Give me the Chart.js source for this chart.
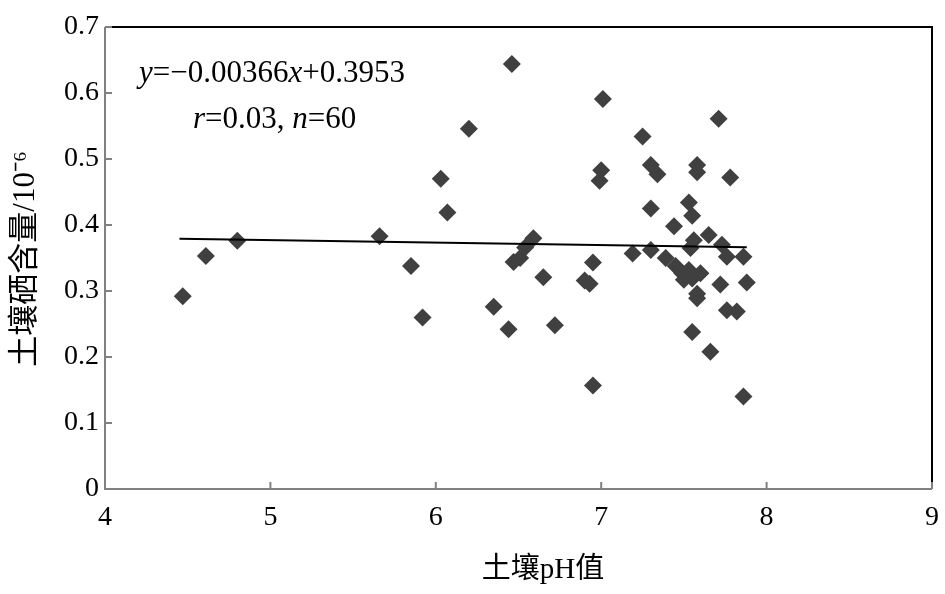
<!DOCTYPE html>
<html lang="zh">
<head>
    <meta charset="UTF-8">
    <title>土壤pH值与土壤硒含量</title>
    <style>
        body {
            margin: 0;
            background: white;
        }
        #wrap {
            width: 945px;
            height: 594px;
        }
    </style>
    <script src="https://cdn.jsdelivr.net/npm/chart.js"></script>
</head>
<body>

    <div id="wrap">
        <canvas id="seChart" width="945" height="594"></canvas>
    </div>

    <script>
        // soil pH (x) and soil Se content (y)
        const phValues = [4.47, 4.61, 4.80, 5.66, 5.85, 5.92, 6.03, 6.07, 6.20, 6.35,
            6.44, 6.46, 6.47, 6.51, 6.54, 6.59, 6.65, 6.72, 6.90, 6.93,
            6.95, 6.95, 6.99, 7.00, 7.01, 7.19, 7.25, 7.30, 7.34, 7.30,
            7.30, 7.39, 7.44, 7.45, 7.49, 7.50, 7.53, 7.55, 7.54, 7.53,
            7.55, 7.56, 7.58, 7.58, 7.58, 7.58, 7.60, 7.55, 7.65, 7.66,
            7.71, 7.72, 7.73, 7.76, 7.76, 7.78, 7.82, 7.86, 7.86, 7.88];
        const seValues = [0.292, 0.353, 0.376, 0.383, 0.338, 0.260, 0.470, 0.419, 0.546, 0.276,
            0.242, 0.644, 0.344, 0.350, 0.366, 0.380, 0.321, 0.248, 0.316, 0.311,
            0.343, 0.157, 0.467, 0.483, 0.591, 0.357, 0.534, 0.491, 0.477, 0.425,
            0.362, 0.350, 0.398, 0.338, 0.327, 0.317, 0.434, 0.414, 0.365, 0.332,
            0.319, 0.377, 0.491, 0.480, 0.296, 0.289, 0.327, 0.238, 0.385, 0.208,
            0.561, 0.310, 0.370, 0.352, 0.271, 0.472, 0.269, 0.140, 0.352, 0.313];

        // fitted line y = slope*x + intercept, drawn over the pH range of the samples
        const slope = -0.00366;
        const intercept = 0.3953;
        const fitRange = [4.45, 7.88];

        const xTicks = [4, 5, 6, 7, 8, 9];
        const yTicks = [0, 0.1, 0.2, 0.3, 0.4, 0.5, 0.6, 0.7];

        const xTitle = '土壤pH值';
        const yTitle = '土壤硒含量/10⁻⁶';
        const eqLines = [
            [['y', true], ['=−0.00366', false], ['x', true], ['+0.3953', false]],
            [['r', true], ['=0.03, ', false], ['n', true], ['=60', false]]
        ];

        const serif = '"Liberation Serif", "Times New Roman", "Noto Sans CJK SC", serif';

        const points = phValues.map((x, i) => ({x: x, y: seValues[i]}));
        const fitLine = fitRange.map(x => ({x: x, y: slope * x + intercept}));

        // frame, inward ticks, axis titles and the equation text
        const framePlugin = {
            id: 'frame',
            afterDraw(chart) {
                const ctx = chart.ctx;
                const a = chart.chartArea;
                const xs = chart.scales.x, ys = chart.scales.y;
                ctx.save();
                ctx.lineWidth = 2;

                ctx.strokeStyle = '#000';
                ctx.beginPath();
                ctx.moveTo(a.left, a.top);
                ctx.lineTo(a.right, a.top);
                ctx.lineTo(a.right, a.bottom);
                ctx.stroke();

                ctx.strokeStyle = '#808080';
                ctx.beginPath();
                ctx.moveTo(a.left, a.top);
                ctx.lineTo(a.left, a.bottom);
                ctx.lineTo(a.right, a.bottom);
                xTicks.forEach(v => {
                    const px = xs.getPixelForValue(v);
                    ctx.moveTo(px, a.bottom);
                    ctx.lineTo(px, a.bottom - 7);
                });
                yTicks.forEach(v => {
                    const py = ys.getPixelForValue(v);
                    ctx.moveTo(a.left, py);
                    ctx.lineTo(a.left + 7, py);
                });
                ctx.stroke();

                ctx.fillStyle = '#000';
                ctx.textBaseline = 'middle';
                ctx.textAlign = 'center';
                ctx.font = '29px ' + serif;
                ctx.fillText(xTitle, 543, 570);

                ctx.save();
                ctx.translate(26, 259);
                ctx.rotate(-Math.PI / 2);
                ctx.font = '31px ' + serif;
                ctx.fillText(yTitle, 0, 0);
                ctx.restore();

                ctx.textAlign = 'left';
                ctx.textBaseline = 'alphabetic';
                const starts = [[139, 82], [193, 128]];
                eqLines.forEach((line, i) => {
                    let x = starts[i][0];
                    line.forEach(([txt, ital]) => {
                        ctx.font = (ital ? 'italic ' : '') + '31px ' + serif;
                        ctx.fillText(txt, x, starts[i][1]);
                        x += ctx.measureText(txt).width;
                    });
                });
                ctx.restore();
            }
        };

        const ctx = document.getElementById('seChart').getContext('2d');
        new Chart(ctx, {
            type: 'scatter',
            data: {
                datasets: [{
                    type: 'line',
                    data: fitLine,
                    borderColor: '#000',
                    borderWidth: 2,
                    pointRadius: 0,
                    fill: false
                }, {
                    data: points,
                    pointStyle: 'rectRot',
                    pointRadius: 9,
                    backgroundColor: '#404040',
                    borderColor: '#404040',
                    borderWidth: 0
                }]
            },
            options: {
                animation: false,
                responsive: false,
                layout: {
                    padding: {top: 27, right: 13, left: 0, bottom: 0}
                },
                plugins: {
                    legend: {display: false},
                    tooltip: {enabled: false}
                },
                scales: {
                    x: {
                        type: 'linear',
                        min: 4,
                        max: 9,
                        afterFit: s => { s.height = 105; s.paddingLeft = 0; s.paddingRight = 0; },
                        afterBuildTicks: s => { s.ticks = xTicks.map(v => ({value: v})); },
                        grid: {display: false, drawTicks: false},
                        border: {display: false},
                        ticks: {
                            color: '#000',
                            padding: 12,
                            font: {family: serif, size: 28}
                        }
                    },
                    y: {
                        type: 'linear',
                        min: 0,
                        max: 0.7,
                        afterFit: s => { s.width = 105; s.paddingTop = 0; s.paddingBottom = 0; },
                        afterBuildTicks: s => { s.ticks = yTicks.map(v => ({value: v})); },
                        grid: {display: false, drawTicks: false},
                        border: {display: false},
                        ticks: {
                            color: '#000',
                            padding: 6,
                            font: {family: serif, size: 28},
                            callback: v => String(v)
                        }
                    }
                }
            },
            plugins: [framePlugin]
        });
    </script>

</body>
</html>
